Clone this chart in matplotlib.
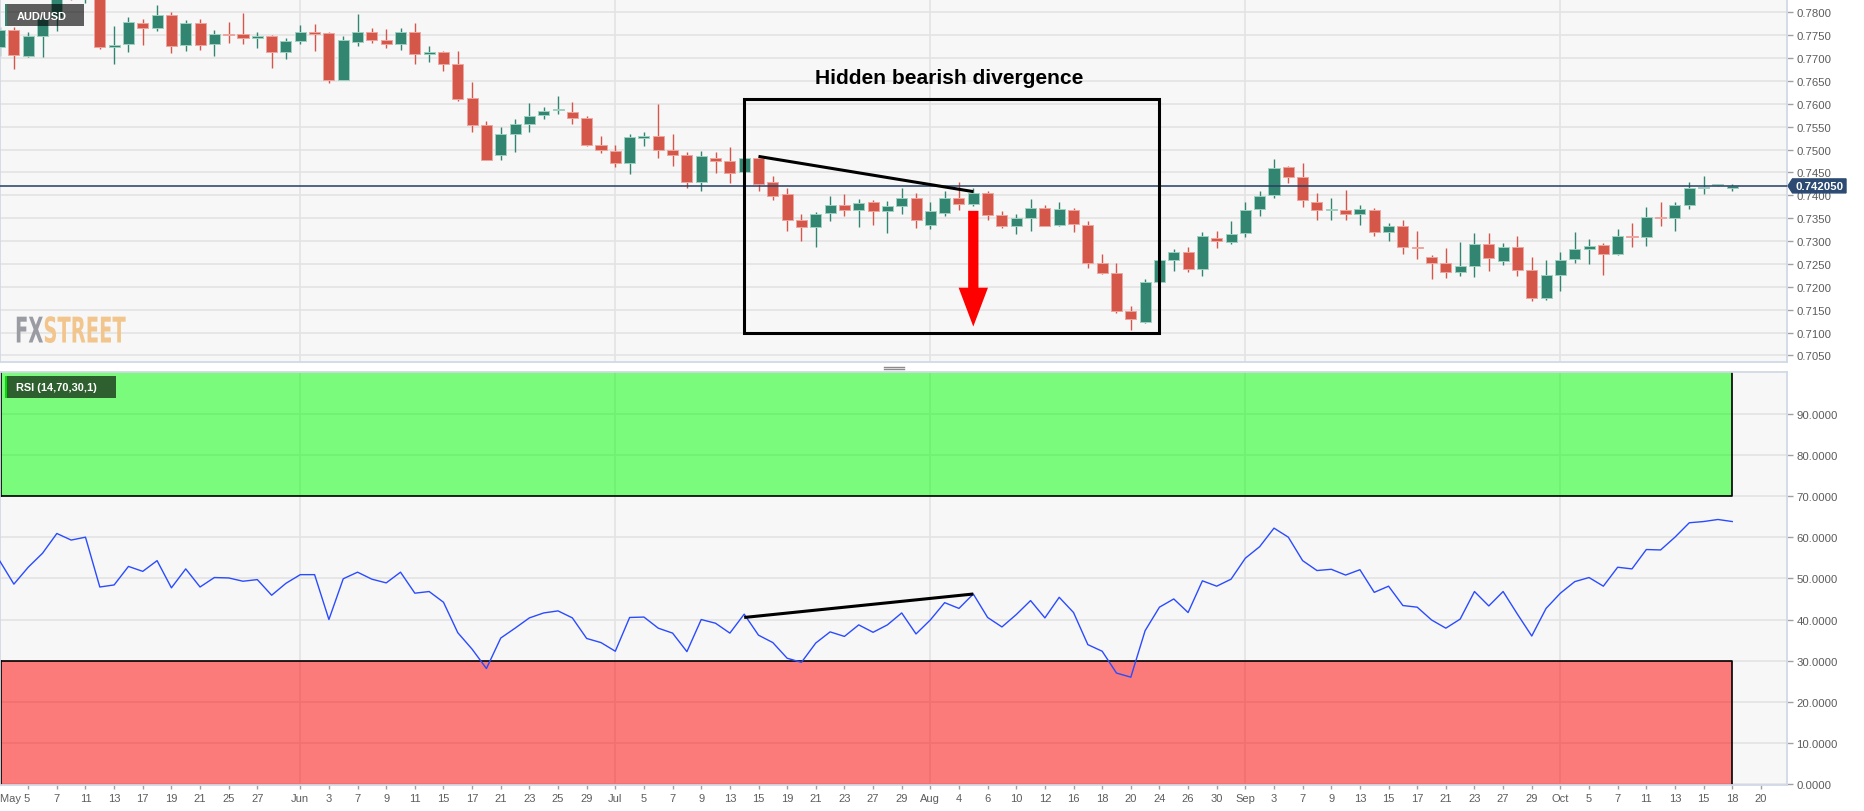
import numpy as np
import pandas as pd
import matplotlib
matplotlib.use("Agg")
import matplotlib.pyplot as plt
from matplotlib.patches import Rectangle, Polygon, FancyArrow
from matplotlib.lines import Line2D
from matplotlib.path import Path
from matplotlib.transforms import ScaledTranslation, Affine2D
from matplotlib.patheffects import AbstractPathEffect

plt.rcParams['font.family'] = ['Liberation Sans', 'DejaVu Sans']

# ---------------- data ----------------
symbol = "AUD/USD"
indicator_label = "RSI (14,70,30,1)"
annotation_text = "Hidden bearish divergence"
watermark = "FXSTREET"

trading_days = list(pd.bdate_range("2021-05-03", "2021-10-15")) + [pd.Timestamp("2021-10-17"), pd.Timestamp("2021-10-18")]
future_days = [pd.Timestamp("2021-10-19"), pd.Timestamp("2021-10-20")]

opens = [0.7725, 0.7761, 0.7705, 0.7749, 0.7790, 0.7850, 0.7838, 0.7846, 0.7725, 0.7730,
         0.7776, 0.7765, 0.7794, 0.7729, 0.7777, 0.7731, 0.7753, 0.7752, 0.7744, 0.7748,
         0.7714, 0.7737, 0.7756, 0.7755, 0.7653, 0.7734, 0.7756, 0.7740, 0.7731, 0.7756,
         0.7708, 0.7713, 0.7688, 0.7612, 0.7554, 0.7489, 0.7535, 0.7555, 0.7576, 0.7586,
         0.7581, 0.7569, 0.7511, 0.7497, 0.7471, 0.7526, 0.7530, 0.7500, 0.7487, 0.7429,
         0.7481, 0.7476, 0.7450, 0.7481, 0.7428, 0.7403, 0.7345, 0.7331, 0.7361, 0.7378,
         0.7368, 0.7385, 0.7366, 0.7376, 0.7394, 0.7336, 0.7362, 0.7393, 0.7380, 0.7404,
         0.7356, 0.7333, 0.7350, 0.7373, 0.7335, 0.7368, 0.7336, 0.7251, 0.7231, 0.7148,
         0.7123, 0.7210, 0.7259, 0.7277, 0.7239, 0.7306, 0.7297, 0.7317, 0.7369, 0.7401,
         0.7461, 0.7441, 0.7385, 0.7367, 0.7368, 0.7358, 0.7368, 0.7320, 0.7333, 0.7288,
         0.7264, 0.7252, 0.7232, 0.7246, 0.7294, 0.7256, 0.7287, 0.7236, 0.7176, 0.7226,
         0.7260, 0.7282, 0.7292, 0.7272, 0.7312, 0.7308, 0.7352, 0.7350, 0.7379, 0.7416,
         0.7423, 0.7417]
highs = [0.7768, 0.7767, 0.7756, 0.7795, 0.7850, 0.7891, 0.7870, 0.7850, 0.7769, 0.7789,
         0.7785, 0.7816, 0.7801, 0.7783, 0.7785, 0.7761, 0.7778, 0.7798, 0.7758, 0.7750,
         0.7743, 0.7772, 0.7774, 0.7756, 0.7748, 0.7796, 0.7765, 0.7764, 0.7766, 0.7777,
         0.7727, 0.7716, 0.7716, 0.7647, 0.7562, 0.7549, 0.7567, 0.7601, 0.7594, 0.7618,
         0.7603, 0.7573, 0.7529, 0.7510, 0.7535, 0.7538, 0.7599, 0.7535, 0.7495, 0.7496,
         0.7495, 0.7505, 0.7483, 0.7489, 0.7443, 0.7417, 0.7358, 0.7363, 0.7398, 0.7402,
         0.7391, 0.7389, 0.7387, 0.7415, 0.7406, 0.7385, 0.7409, 0.7429, 0.7417, 0.7409,
         0.7365, 0.7358, 0.7391, 0.7378, 0.7385, 0.7373, 0.7343, 0.7271, 0.7251, 0.7157,
         0.7218, 0.7260, 0.7283, 0.7286, 0.7319, 0.7321, 0.7343, 0.7385, 0.7410, 0.7479,
         0.7464, 0.7470, 0.7406, 0.7395, 0.7411, 0.7378, 0.7373, 0.7339, 0.7347, 0.7323,
         0.7269, 0.7284, 0.7297, 0.7317, 0.7317, 0.7295, 0.7312, 0.7266, 0.7258, 0.7277,
         0.7319, 0.7304, 0.7296, 0.7326, 0.7339, 0.7374, 0.7385, 0.7385, 0.7429, 0.7442,
         0.7425, 0.7425]
lows = [0.7705, 0.7675, 0.7702, 0.7702, 0.7760, 0.7826, 0.7821, 0.7720, 0.7688, 0.7714,
        0.7729, 0.7760, 0.7710, 0.7716, 0.7718, 0.7705, 0.7732, 0.7730, 0.7723, 0.7678,
        0.7699, 0.7731, 0.7715, 0.7645, 0.7651, 0.7727, 0.7732, 0.7723, 0.7718, 0.7688,
        0.7692, 0.7672, 0.7607, 0.7539, 0.7477, 0.7478, 0.7494, 0.7538, 0.7567, 0.7578,
        0.7555, 0.7507, 0.7492, 0.7461, 0.7446, 0.7508, 0.7481, 0.7463, 0.7415, 0.7409,
        0.7449, 0.7426, 0.7448, 0.7410, 0.7390, 0.7321, 0.7299, 0.7288, 0.7343, 0.7355,
        0.7330, 0.7336, 0.7317, 0.7358, 0.7329, 0.7326, 0.7355, 0.7368, 0.7376, 0.7345,
        0.7328, 0.7315, 0.7323, 0.7332, 0.7332, 0.7319, 0.7242, 0.7229, 0.7143, 0.7105,
        0.7121, 0.7208, 0.7235, 0.7233, 0.7223, 0.7285, 0.7293, 0.7308, 0.7355, 0.7395,
        0.7426, 0.7374, 0.7345, 0.7347, 0.7347, 0.7336, 0.7312, 0.7301, 0.7272, 0.7261,
        0.7218, 0.7220, 0.7223, 0.7222, 0.7235, 0.7247, 0.7224, 0.7169, 0.7172, 0.7191,
        0.7251, 0.7249, 0.7225, 0.7269, 0.7288, 0.7290, 0.7332, 0.7323, 0.7371, 0.7403,
        0.7421, 0.7410]
closes = [0.7761, 0.7707, 0.7749, 0.7785, 0.7836, 0.7838, 0.7846, 0.7725, 0.7729, 0.7778,
          0.7766, 0.7794, 0.7727, 0.7777, 0.7729, 0.7753, 0.7751, 0.7744, 0.7748, 0.7713,
          0.7737, 0.7756, 0.7753, 0.7653, 0.7740, 0.7756, 0.7740, 0.7731, 0.7756, 0.7709,
          0.7713, 0.7688, 0.7610, 0.7554, 0.7477, 0.7533, 0.7555, 0.7574, 0.7584, 0.7589,
          0.7570, 0.7511, 0.7499, 0.7471, 0.7528, 0.7530, 0.7500, 0.7487, 0.7430, 0.7485,
          0.7476, 0.7449, 0.7481, 0.7425, 0.7399, 0.7346, 0.7331, 0.7359, 0.7379, 0.7368,
          0.7384, 0.7366, 0.7376, 0.7394, 0.7346, 0.7365, 0.7393, 0.7382, 0.7404, 0.7356,
          0.7333, 0.7350, 0.7372, 0.7333, 0.7369, 0.7337, 0.7252, 0.7231, 0.7148, 0.7130,
          0.7210, 0.7258, 0.7276, 0.7239, 0.7312, 0.7299, 0.7315, 0.7368, 0.7399, 0.7459,
          0.7441, 0.7389, 0.7367, 0.7370, 0.7358, 0.7369, 0.7320, 0.7332, 0.7288, 0.7285,
          0.7253, 0.7232, 0.7245, 0.7294, 0.7262, 0.7287, 0.7236, 0.7175, 0.7226, 0.7258,
          0.7282, 0.7290, 0.7272, 0.7312, 0.7309, 0.7352, 0.7350, 0.7379, 0.7417, 0.7419,
          0.7423, 0.74205]
rsi = [54.3, 48.6, 52.7, 56.1, 60.9, 59.3, 60.0, 47.9, 48.4, 52.9,
       51.7, 54.3, 47.7, 52.3, 47.9, 50.2, 50.1, 49.3, 49.7, 45.9,
       48.8, 50.9, 50.9, 40.0, 49.9, 51.5, 49.8, 48.9, 51.5, 46.4,
       46.8, 44.2, 36.8, 32.8, 28.1, 35.5, 37.9, 40.4, 41.6, 42.1,
       40.4, 35.4, 34.4, 32.3, 40.5, 40.6, 37.9, 36.7, 32.2, 40.0,
       39.1, 36.7, 41.3, 36.2, 34.4, 30.6, 29.6, 34.3, 37.0, 35.9,
       38.7, 36.9, 38.7, 41.6, 36.5, 39.9, 44.1, 42.7, 46.2, 40.5,
       38.2, 41.2, 44.6, 40.4, 45.4, 41.7, 33.9, 32.3, 27.0, 26.0,
       37.3, 43.0, 45.0, 41.7, 49.4, 48.1, 49.8, 54.9, 57.7, 62.2,
       60.0, 54.3, 51.9, 52.2, 50.8, 52.1, 46.6, 48.1, 43.4, 43.0,
       39.9, 37.9, 40.1, 46.8, 43.3, 46.8, 41.3, 36.0, 42.7, 46.4,
       49.2, 50.2, 48.1, 52.7, 52.3, 57.0, 56.9, 60.0, 63.5, 63.8,
       64.3, 63.8]
last_price = 0.742050

tick_dates = ["05-05", "05-07", "05-11", "05-13", "05-17", "05-19", "05-21", "05-25", "05-27",
              "06-01", "06-03", "06-07", "06-09", "06-11", "06-15", "06-17", "06-21", "06-23", "06-25", "06-29",
              "07-01", "07-05", "07-07", "07-09", "07-13", "07-15", "07-19", "07-21", "07-23", "07-27", "07-29",
              "08-02", "08-04", "08-06", "08-10", "08-12", "08-16", "08-18", "08-20", "08-24", "08-26", "08-30",
              "09-01", "09-03", "09-07", "09-09", "09-13", "09-15", "09-17", "09-21", "09-23", "09-27", "09-29",
              "10-01", "10-05", "10-07", "10-11", "10-13", "10-15", "10-18", "10-20"]
tick_labels = ["May 5", "7", "11", "13", "17", "19", "21", "25", "27",
               "Jun", "3", "7", "9", "11", "15", "17", "21", "23", "25", "29",
               "Jul", "5", "7", "9", "13", "15", "19", "21", "23", "27", "29",
               "Aug", "4", "6", "10", "12", "16", "18", "20", "24", "26", "30",
               "Sep", "3", "7", "9", "13", "15", "17", "21", "23", "27", "29",
               "Oct", "5", "7", "11", "13", "15", "18", "20"]
month_starts = ["06-01", "07-01", "08-02", "09-01", "10-01"]

price_ticks = [0.7050, 0.7100, 0.7150, 0.7200, 0.7250, 0.7300, 0.7350, 0.7400,
               0.7450, 0.7500, 0.7550, 0.7600, 0.7650, 0.7700, 0.7750, 0.7800]
rsi_ticks = [0, 10, 20, 30, 40, 50, 60, 70, 80, 90]
overbought, oversold = 70, 30

# annotations (dates, values)
price_div_dates, price_div_vals = ["07-15", "08-05"], [0.7485, 0.7408]
rsi_div_dates, rsi_div_vals = ["07-14", "08-05"], [40.5, 46.2]
box_dates, box_vals = ["07-14", "08-24"], [0.7099, 0.7611]
arrow_date, arrow_vals = "08-05", [0.7366, 0.7113]

# ---------------- setup ----------------
all_days = trading_days + future_days
pos = {d.strftime("%m-%d"): i for i, d in enumerate(all_days)}
x = np.arange(len(opens))
o, h, l, c = map(np.array, (opens, highs, lows, closes))

W, H = 1865, 812
fig = plt.figure(figsize=(W / 100, H / 100), dpi=100)
fig.patch.set_facecolor("white")


def px_rect(x0, y0, x1, y1):
    return [x0 / W, 1 - y1 / H, (x1 - x0) / W, (y1 - y0) / H]


ax = fig.add_axes(px_rect(0, 0, 1787.5, 363))
ax2 = fig.add_axes(px_rect(0, 373, 1787.5, 786))

XL = (0.03, 124.86)
GRID = "#e3e3e3"
SPINE = "#d2d8e6"
LBL = "#5c5c5c"

for a in (ax, ax2):
    a.set_facecolor("#f7f7f7")
    a.set_xlim(*XL)
    for s in a.spines.values():
        s.set_color(SPINE)
        s.set_linewidth(1.3)
    a.set_axisbelow(True)
    for m in month_starts:
        a.axvline(pos[m], color=GRID, lw=1.2, zorder=0.5)
    a.yaxis.tick_right()
    a.tick_params(axis="y", direction="out", length=4, width=1, color="#a0a0a0",
                  labelsize=8.2, labelcolor=LBL, pad=2.5, left=False, right=True)

# ---------------- price panel ----------------
ax.set_ylim(0.703556, 0.782907)
ax.set_yticks(price_ticks)
ax.set_yticklabels([f"{v:.4f}" for v in price_ticks])
ax.grid(axis="y", color=GRID, lw=1.2, zorder=0.5)
ax.tick_params(axis="x", bottom=False, labelbottom=False)

GREEN, RED = "#328571", "#d4574a"
up = c >= o
cols = np.where(up, GREEN, RED)
edges = np.where(up, "#9fd0c0", "#eda79f")
ax.vlines(x, l, h, colors=cols, lw=1.0, zorder=2)
body_h = np.maximum(np.abs(c - o), 0.00006)
ax.bar(x, body_h, bottom=np.minimum(o, c), width=0.77, color=cols,
       edgecolor=edges, linewidth=0.7, zorder=3)

ax.axhline(last_price, color="#243f66", lw=1.1, zorder=4)

# annotations
ax.add_patch(Rectangle((pos[box_dates[0]], box_vals[0]),
                       pos[box_dates[1]] - pos[box_dates[0]], box_vals[1] - box_vals[0],
                       fill=False, edgecolor="black", lw=2.2, zorder=5))
ax.plot([pos[d] for d in price_div_dates], price_div_vals, color="black", lw=2.2,
        solid_capstyle="butt", zorder=5)
ax.add_patch(FancyArrow(pos[arrow_date], arrow_vals[0], 0, arrow_vals[1] - arrow_vals[0],
                        width=0.72, head_width=2.05, head_length=0.0085,
                        length_includes_head=True, color="#ff0000", lw=0, zorder=6))
ax.text((pos[box_dates[0]] + pos[box_dates[1]]) / 2 - 0.15, box_vals[1] + 0.0035, annotation_text,
        ha="center", va="baseline", fontsize=15.1, fontweight="bold", color="black", zorder=6)

# ---------------- RSI panel ----------------
ax2.set_ylim(-0.19, 100.12)
ax2.set_yticks(rsi_ticks)
ax2.set_yticklabels([f"{v:.4f}" for v in rsi_ticks])
ax2.grid(axis="y", color=GRID, lw=1.2, zorder=0.5)
band_end = pos["10-18"]
ax2.add_patch(Rectangle((XL[0], overbought), band_end - XL[0], 100.12 - overbought,
                        facecolor=(0, 1, 0, 0.5), edgecolor="none", zorder=1))
ax2.add_patch(Rectangle((XL[0], -0.19), band_end - XL[0], oversold + 0.19,
                        facecolor=(1, 0, 0, 0.5), edgecolor="none", zorder=1))
ax2.plot([XL[0], band_end, band_end], [overbought, overbought, 100.12], color="black", lw=1.2, zorder=2)
ax2.plot([XL[0], band_end, band_end], [oversold, oversold, -0.19], color="black", lw=1.2, zorder=2)
ax2.plot([XL[0] + 0.05, XL[0] + 0.05], [overbought, 100.12], color="black", lw=1.2, zorder=2)
ax2.plot([XL[0] + 0.05, XL[0] + 0.05], [-0.19, oversold], color="black", lw=1.2, zorder=2)
ax2.plot(x, rsi, color="#2a4bff", lw=1.0, zorder=3)
ax2.plot([pos[d] for d in rsi_div_dates], rsi_div_vals, color="black", lw=2.2,
         solid_capstyle="butt", zorder=4)

ax2.set_xticks([pos[d] for d in tick_dates])
ax2.set_xticklabels(tick_labels)
ax2.tick_params(axis="x", direction="out", length=3, width=1, color="#a0a0a0",
                labelsize=8, labelcolor=LBL, pad=2.7)
first = ax2.get_xticklabels()[0]
first.set_horizontalalignment("left")
first.set_transform(first.get_transform() + ScaledTranslation(-(pos["05-05"] - XL[0]) * 14.32 / 100, 0, fig.dpi_scale_trans))

# ---------------- overlays ----------------
def fx(px):
    return px / W


def fy(py):
    return 1 - py / H


# separator handle
for yy in (367.5, 370.0):
    fig.add_artist(Line2D([fx(884), fx(904)], [fy(yy), fy(yy)], color="#8c8c8c", lw=1.0))

# symbol label
fig.add_artist(Rectangle((fx(5), fy(27)), fx(84) - fx(5), fy(5) - fy(27),
                         transform=fig.transFigure, facecolor=(0, 0, 0, 0.62), edgecolor="none"))
fig.add_artist(Rectangle((fx(5), fy(27)), fx(7.5) - fx(5), fy(5) - fy(27),
                         transform=fig.transFigure, facecolor="#2e8b6f", edgecolor="none"))
fig.text(fx(16.5), fy(16.5), symbol, color="white", fontsize=7.9, fontweight="bold",
         ha="left", va="center")

# indicator label
fig.add_artist(Rectangle((fx(5), fy(399)), fx(116) - fx(5), fy(377) - fy(399),
                         transform=fig.transFigure, facecolor=(0, 0, 0, 0.62), edgecolor="none"))
fig.add_artist(Rectangle((fx(5), fy(399)), fx(7.5) - fx(5), fy(377) - fy(399),
                         transform=fig.transFigure, facecolor="#00dd00", edgecolor="none"))
fig.text(fx(16.5), fy(388.5), indicator_label, color="white", fontsize=7.9, fontweight="bold",
         ha="left", va="center")


# watermark: one real text, condensed horizontally and two-toned at draw time
class CondensedTwoTone(AbstractPathEffect):
    def __init__(self, sx, x0, n_first, c_first, c_rest):
        super().__init__()
        self.sx, self.x0, self.n_first = sx, x0, n_first
        self.c_first, self.c_rest = c_first, c_rest

    def draw_path(self, renderer, gc, tpath, affine, rgbFace=None):
        aff = affine + Affine2D().translate(-self.x0, 0).scale(self.sx, 1).translate(self.x0, 0)
        verts, codes = tpath.vertices, tpath.codes
        if codes is None:
            renderer.draw_path(gc, tpath, aff, self.c_rest)
            return
        starts = np.where(codes == Path.MOVETO)[0]
        if len(starts) <= self.n_first:
            renderer.draw_path(gc, tpath, aff, self.c_rest)
            return
        cut = starts[self.n_first]
        renderer.draw_path(gc, Path(verts[:cut], codes[:cut]), aff, matplotlib.colors.to_rgba(self.c_first))
        renderer.draw_path(gc, Path(verts[cut:], codes[cut:]), aff, matplotlib.colors.to_rgba(self.c_rest))


wm_left = 15.0
fig.text(fx(wm_left), fy(343.5), watermark, color="#9b9ba3", fontsize=25.5, fontweight="bold",
         family="DejaVu Sans", ha="left", va="baseline",
         path_effects=[CondensedTwoTone(0.551, wm_left, 2, "#9b9ba3", "#f2c58c")])

# last price tag
ypix = ax.transData.transform((0, last_price))[1]
yt = H - ypix
tag = Polygon([(fx(1788), fy(yt)), (fx(1792.5), fy(yt - 7)), (fx(1846), fy(yt - 7)),
               (fx(1846), fy(yt + 7)), (fx(1792.5), fy(yt + 7))],
              closed=True, transform=fig.transFigure, facecolor="#2c4a72", edgecolor="#2c4a72", zorder=10)
fig.add_artist(tag)
fig.text(fx(1819.5), fy(yt), f"{last_price:.6f}", color="white", fontsize=8.2, fontweight="bold",
         ha="center", va="center", zorder=11)

fig.savefig("out.png", dpi=100, facecolor="white")
